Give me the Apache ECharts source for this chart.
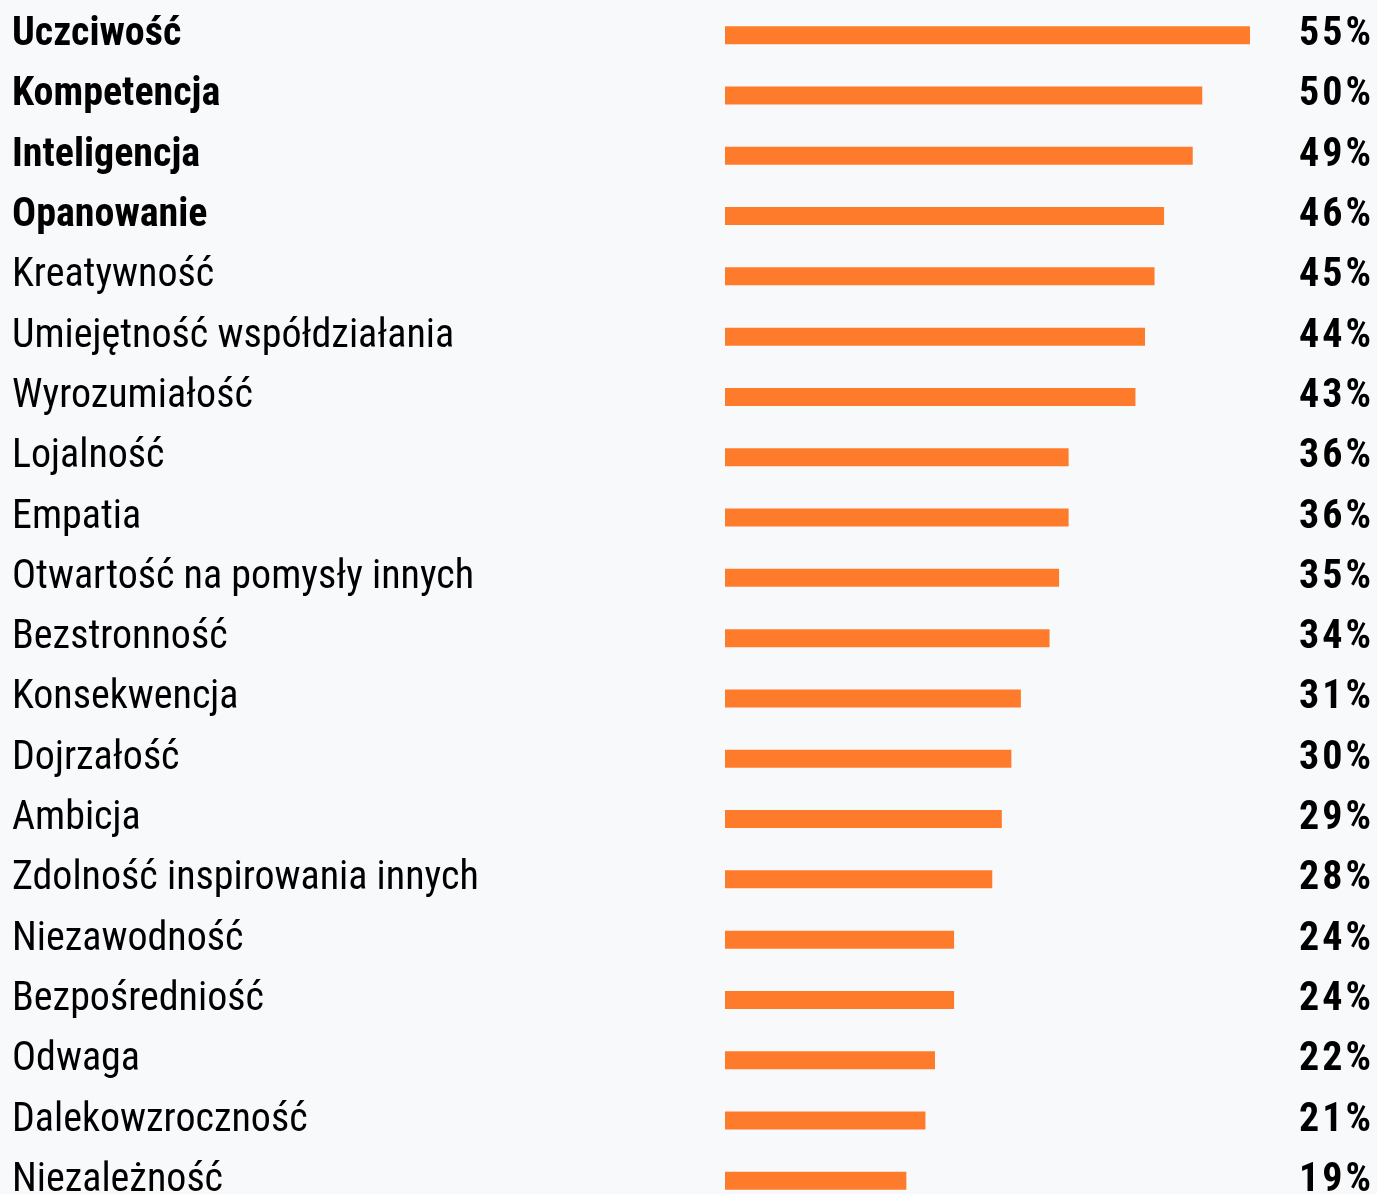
<!DOCTYPE html>
<html><head><meta charset="utf-8">
<style>html,body{margin:0;padding:0;background:#f8f9fb;overflow:hidden;width:1377px;height:1194px}#chart{width:1377px;height:1211px}</style>
<script src="https://cdn.jsdelivr.net/npm/echarts@6/dist/echarts.min.js"></script>
</head><body>
<div id="chart"></div>
<script>
var categories = ["Uczciwość","Kompetencja","Inteligencja","Opanowanie","Kreatywność","Umiejętność współdziałania","Wyrozumiałość","Lojalność","Empatia","Otwartość na pomysły innych","Bezstronność","Konsekwencja","Dojrzałość","Ambicja","Zdolność inspirowania innych","Niezawodność","Bezpośredniość","Odwaga","Dalekowzroczność","Niezależność"];
var values = [55,50,49,46,45,44,43,36,36,35,34,31,30,29,28,24,24,22,21,19];
var boldCount = 4;
var percentLabels = values.map(function(v){ return v + '%'; });

var chart = echarts.init(document.getElementById('chart'), null, {renderer:'canvas'});
chart.setOption({
  backgroundColor: '#f8f9fb',
  animation: false,
  grid: { left: 725, right: 127, top: 5, bottom: 0, containLabel: false },
  xAxis: { type: 'value', min: 0, max: 55, show: false },
  yAxis: [{
    type: 'category', inverse: true, data: categories,
    axisLine: {show:false}, axisTick: {show:false}, splitLine:{show:false},
    axisLabel: {
      margin: 713, align: 'left', color: '#000',
      fontFamily: 'Roboto Condensed', fontSize: 40,
      formatter: function(val, idx){ return idx < boldCount ? '{b|' + val + '}' : val; },
      rich: { b: { fontFamily: 'Roboto Condensed', fontSize: 40, fontWeight: 'bold', color: '#000' } }
    }
  },{
    type: 'category', inverse: true, data: percentLabels, position: 'right',
    axisLine: {show:false}, axisTick: {show:false}, splitLine:{show:false},
    axisLabel: {
      margin: 121, align: 'right', color: '#000',
      fontFamily: 'Roboto Condensed', fontWeight: 'bold', fontSize: 40,
      formatter: function(val){
        var chars = val.split('');
        return chars.map(function(c, i){ return '{' + (i < chars.length - 1 ? 's' : 'e') + '|' + c + '}'; }).join('');
      },
      rich: {
        s: { fontFamily: 'Roboto Condensed', fontWeight: 'bold', fontSize: 40, color: '#000', padding: [0, 3, 0, 0] },
        e: { fontFamily: 'Roboto Condensed', fontWeight: 'bold', fontSize: 40, color: '#000' }
      }
    }
  }],
  series: [{
    type: 'bar', data: values, barWidth: 18, silent: true,
    itemStyle: { color: '#ff7b2c' }
  }]
});
</script>
</body></html>
